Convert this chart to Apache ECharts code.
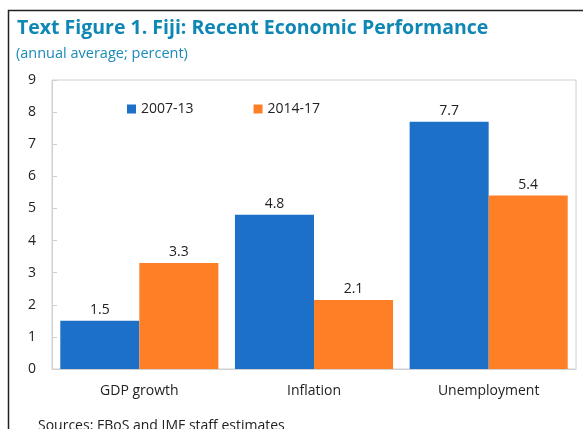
<!DOCTYPE html>
<html><head><meta charset="utf-8">
<script src="https://cdn.jsdelivr.net/npm/echarts@6/dist/echarts.min.js"></script>
<style>html,body{margin:0;padding:0;background:#fff}#c{width:583px;height:429px}</style>
</head><body><div id="c"></div>
<script>
const categories = ['GDP growth', 'Inflation', 'Unemployment'];
const seriesNames = ['2007-13', '2014-17'];
const values2007_13 = [1.5, 4.8, 7.7];
const values2014_17 = [3.3, 2.15, 5.4];
const yTicks = [0, 1, 2, 3, 4, 5, 6, 7, 8, 9];

const font = '"Open Sans", "Noto Sans", sans-serif';
const chart = echarts.init(document.getElementById('c'), null, {renderer: 'canvas'});
const labelStyle = {show: true, position: 'top', color: '#222', fontSize: 14, fontFamily: font, formatter: p => p.value.toFixed(1), distance: 4};
chart.setOption({
  animation: false,
  graphic: [
    {type: 'rect', shape: {x: 8.5, y: 10.5, width: 700, height: 600}, style: {fill: null, stroke: '#222', lineWidth: 1.5}, silent: true},
    {type: 'text', left: 17, top: 18, style: {text: 'Text Figure 1. Fiji: Recent Economic Performance', fill: '#0f87b5', font: 'bold 19.5px ' + font}},
    {type: 'text', left: 16, top: 46, style: {text: '(annual average; percent)', fill: '#1a8ab8', font: '14.5px ' + font}},
    {type: 'text', left: 38, top: 419, style: {text: 'Sources: FBoS and IMF staff estimates', fill: '#222', font: '14px ' + font}}
  ],
  legend: {
    data: seriesNames, top: 97, left: 122, itemGap: 60, itemWidth: 9, itemHeight: 9, icon: 'rect',
    textStyle: {fontSize: 14, fontFamily: font, color: '#222'}
  },
  grid: {left: 52, right: 7, top: 80, bottom: 60, show: true, borderColor: '#d0d0d0', borderWidth: 1},
  xAxis: {
    type: 'category', data: categories,
    axisLine: {show: true, lineStyle: {color: '#d0d0d0'}}, axisTick: {show: false},
    axisLabel: {color: '#222', fontSize: 14, fontFamily: font, margin: 15}
  },
  yAxis: {
    type: 'value', min: yTicks[0], max: yTicks[yTicks.length - 1], interval: 1,
    axisLine: {show: true, lineStyle: {color: '#d0d0d0'}},
    axisTick: {show: true, inside: true, length: 5, lineStyle: {color: '#d0d0d0'}},
    splitLine: {show: false},
    axisLabel: {color: '#222', fontSize: 14, fontFamily: font, margin: 16}
  },
  series: [
    {name: seriesNames[0], type: 'bar', data: values2007_13, itemStyle: {color: '#1c70c8'}, barGap: '0%', barCategoryGap: '9.5%', label: labelStyle},
    {name: seriesNames[1], type: 'bar', data: values2014_17, itemStyle: {color: '#fe7f26'}, label: labelStyle}
  ]
});
</script></body></html>
